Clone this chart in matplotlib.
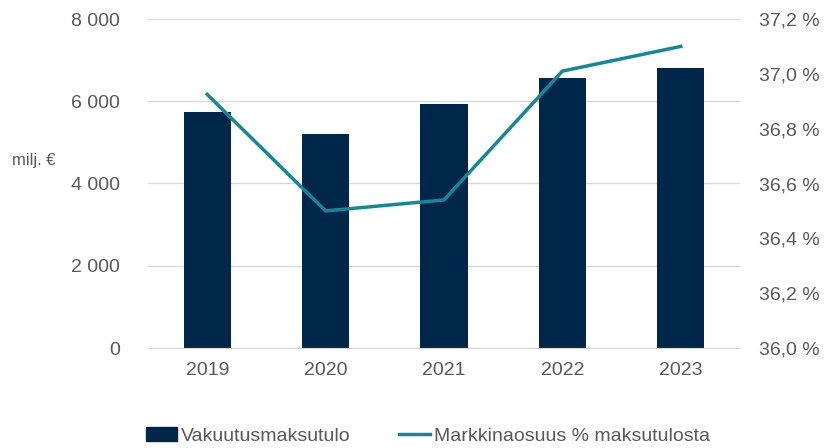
import matplotlib.pyplot as plt
from matplotlib.patches import Patch
from matplotlib.lines import Line2D
from matplotlib.ticker import FuncFormatter

years = ['2019', '2020', '2021', '2022', '2023']
premium_income = [5745, 5215, 5940, 6565, 6815]
market_share = [36.925, 36.50, 36.54, 37.01, 37.10]

bar_color = '#00264A'
line_color = '#13889B'
text_color = '#595959'

plt.rcParams['font.family'] = ['Liberation Sans', 'DejaVu Sans']

fig = plt.figure(figsize=(8.3, 4.48), dpi=100)
ax = fig.add_axes([148 / 830, 1 - 348 / 448, 592 / 830, 329 / 448])
ax2 = ax.twinx()

x = range(len(years))
ax.bar(x, premium_income, width=0.4, color=bar_color, zorder=2)
ax2.plot(x, market_share, color=line_color, lw=2.5, zorder=3)

ax.set_ylim(0, 8000)
ax.set_yticks([0, 2000, 4000, 6000, 8000])
ax.yaxis.set_major_formatter(FuncFormatter(lambda v, p: f'{int(v):,}'.replace(',', ' ')))
ax2.set_ylim(36.0, 37.2)
ax2.set_yticks([36.0, 36.2, 36.4, 36.6, 36.8, 37.0, 37.2])
ax2.yaxis.set_major_formatter(FuncFormatter(lambda v, p: f'{v:.1f} %'.replace('.', ',')))
ax.set_xlim(-0.5, len(years) - 0.5)
ax.set_xticks(list(x))
ax.set_xticklabels(years)

ax.grid(axis='y', color='#D9D9D9', lw=1, zorder=0)
ax.set_axisbelow(True)
for a in (ax, ax2):
    for s in a.spines.values():
        s.set_visible(False)
    a.tick_params(length=0, labelsize=14, colors=text_color)
ax.spines['bottom'].set_visible(True)
ax.spines['bottom'].set_color('#D9D9D9')
ax.tick_params(axis='y', pad=20)
ax.tick_params(axis='x', pad=10)
ax2.tick_params(axis='y', pad=14)

fig.text(12 / 830, 1 - 160 / 448, 'milj. €', fontsize=12, color=text_color, va='center', ha='left')

handles = [Patch(color=bar_color), Line2D([0], [0], color=line_color, lw=2.5)]
fig.legend(handles, ['Vakuutusmaksutulo', 'Markkinaosuus % maksutulosta'],
           loc='center', bbox_to_anchor=(428 / 830, 1 - 436 / 448), ncol=2, frameon=False,
           fontsize=14, labelcolor=text_color, handlelength=1.6, handletextpad=0.2,
           columnspacing=2.5)

fig.savefig('out.png', dpi=100)
